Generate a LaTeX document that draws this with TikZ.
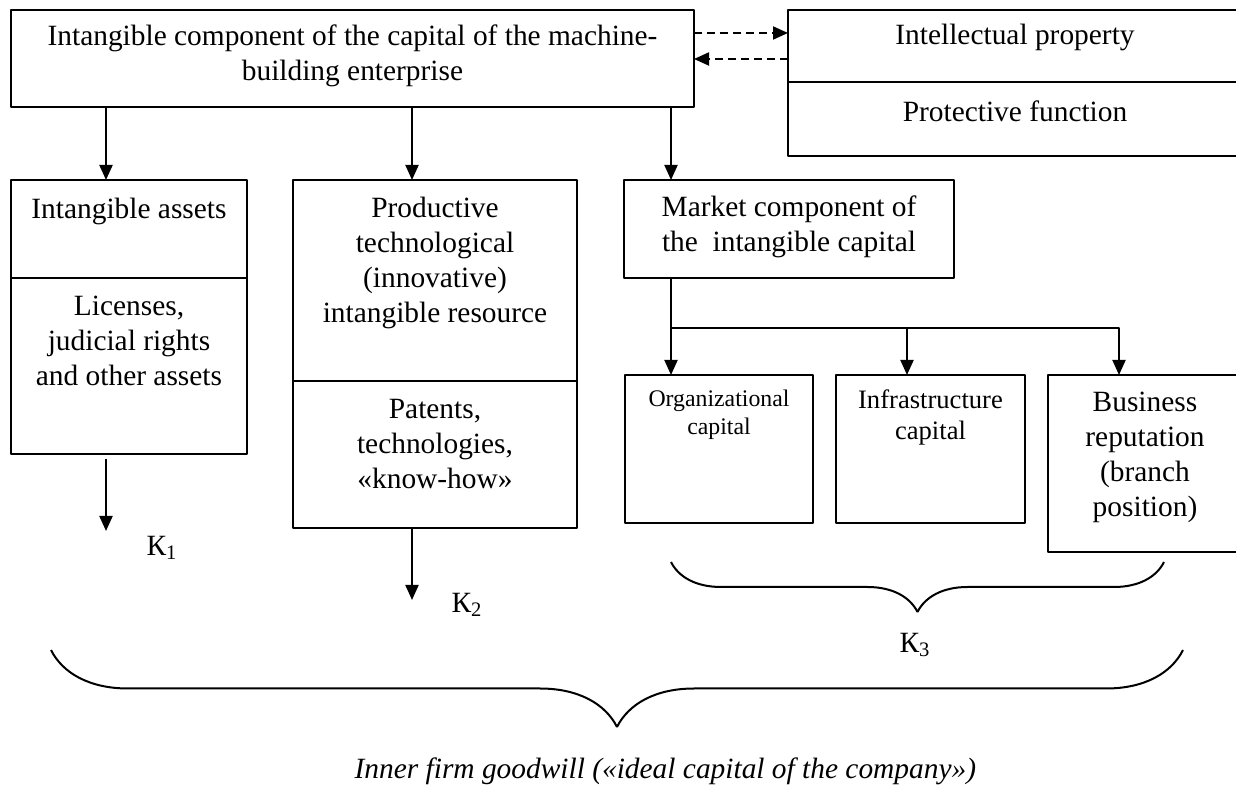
\documentclass[tikz,border=0pt]{standalone}
\usepackage{fontspec}
\setmainfont{Liberation Serif}
\usetikzlibrary{arrows.meta,decorations.pathreplacing}
\newcommand{\celltext}[4]{\parbox[t][#2][t]{#1}{\centering\vspace*{#3}#4\par}}
\tikzset{
  cell/.style={draw, inner sep=0pt, outer sep=0pt, anchor=north west},
  dasharrow/.style={->, dash pattern=on 4bp off 2.5bp},
  curly/.style={decorate, decoration={brace, mirror, amplitude=#1}},
}
\begin{document}
\begin{tikzpicture}[>={Triangle[length=7.5bp,width=6.5bp]},line join=bevel,font=\fontsize{14.7bp}{17.5bp}\selectfont]
  \pgfsetlinewidth{1bp}
  \useasboundingbox (0bp,0bp) rectangle (618bp,393.5bp);
%%
  % Node: Intangible component
  \node[cell] (top) at (5.5bp,388.5bp) {\celltext{341.5bp}{48.5bp}{7.5bp}{Intangible component of the capital of the machine-\\building enterprise}};
  % Node: Intellectual property
  \node[cell] (ipr) at (394bp,388.5bp) {\celltext{227bp}{36bp}{7bp}{Intellectual property}};
  \node[cell] (prot) at (394bp,352.5bp) {\celltext{227bp}{37bp}{9.2bp}{Protective function}};
  % Node: Intangible assets
  \node[cell] (assets) at (5.5bp,303.5bp) {\celltext{118bp}{49bp}{9.2bp}{Intangible assets}};
  \node[cell] (lic) at (5.5bp,254.5bp) {\celltext{118bp}{88bp}{9bp}{Licenses,\\judicial rights\\and other assets}};
  % Node: Productive resource
  \node[cell] (prod) at (146.5bp,303.5bp) {\celltext{142bp}{100.5bp}{8.5bp}{Productive\\technological\\(innovative)\\intangible resource}};
  \node[cell] (pat) at (146.5bp,203bp) {\celltext{142bp}{73.5bp}{9bp}{Patents,\\technologies,\\«know-how»}};
  % Node: Market component
  \node[cell] (market) at (312bp,303.5bp) {\celltext{165bp}{49bp}{8bp}{Market component of\\the~ intangible capital}};
  % Node: Organizational capital
  \node[cell,font=\fontsize{11.9bp}{14bp}\selectfont] (org) at (312.5bp,206bp) {\celltext{94bp}{74bp}{7.5bp}{Organizational\\capital}};
  % Node: Infrastructure capital
  \node[cell,font=\fontsize{13.3bp}{15.5bp}\selectfont] (infra) at (418bp,206bp) {\celltext{94.5bp}{74bp}{7.6bp}{Infrastructure\\capital}};
  % Node: Business reputation
  \node[cell] (busi) at (524bp,206bp) {\celltext{97bp}{88.5bp}{8.4bp}{Business\\reputation\\(branch\\position)}};
  % Node: K labels
  \node (k1) at (81bp,119.5bp) {К\textsubscript{1}};
  \node (k2) at (233.5bp,91bp) {К\textsubscript{2}};
  \node (k3) at (457.5bp,71bp) {К\textsubscript{3}};
  \node[anchor=base west] (goodwill) at (173.5bp,4.5bp) {\itshape Inner firm goodwill («ideal capital of the company»)};
%%
  % Edge: top -> assets
  \draw [->] ([xshift=-11.5bp]assets.north |- top.south) -- ([xshift=-11.5bp]assets.north);
  % Edge: top -> prod
  \draw [->] ([xshift=-11.5bp]prod.north |- top.south) -- ([xshift=-11.5bp]prod.north);
  % Edge: top -> market
  \draw [->] ([xshift=-59bp]market.north |- top.south) -- ([xshift=-59bp]market.north);
  % Edge: top <-> ipr
  \draw [dasharrow] ([yshift=6.5bp]ipr.west -| top.east) -- ([yshift=6.5bp]ipr.west);
  \draw [dasharrow] ([yshift=-6.5bp]ipr.west) -- ([yshift=-6.5bp]ipr.west -| top.east);
  % Edge: market -> org, infra, busi
  \draw [->] ([xshift=-24bp]org.north |- market.south) -- ([xshift=-24bp]org.north);
  \path ([xshift=-24bp,yshift=23.5bp]org.north) coordinate (fork);
  \draw [->] (fork) -| ([xshift=-13bp]busi.north);
  \draw [->] ([xshift=-11.75bp]infra.north |- fork) -- ([xshift=-11.75bp]infra.north);
  % Edge: lic -> K1, pat -> K2
  \draw [->] ([xshift=-11.5bp,yshift=-2.5bp]lic.south) -- ++(0bp,-36bp) coordinate (k1end);
  \draw [->] ([xshift=-11.5bp]pat.south) -- ++(0bp,-36bp) coordinate (k2end);
  % Braces
  \draw [curly=25bp] (335.5bp,112.5bp) -- (582bp,112.5bp);
  \draw [curly=38.5bp] (25.5bp,68.5bp) -- (591.5bp,68.5bp);
%
\end{tikzpicture}
\end{document}
